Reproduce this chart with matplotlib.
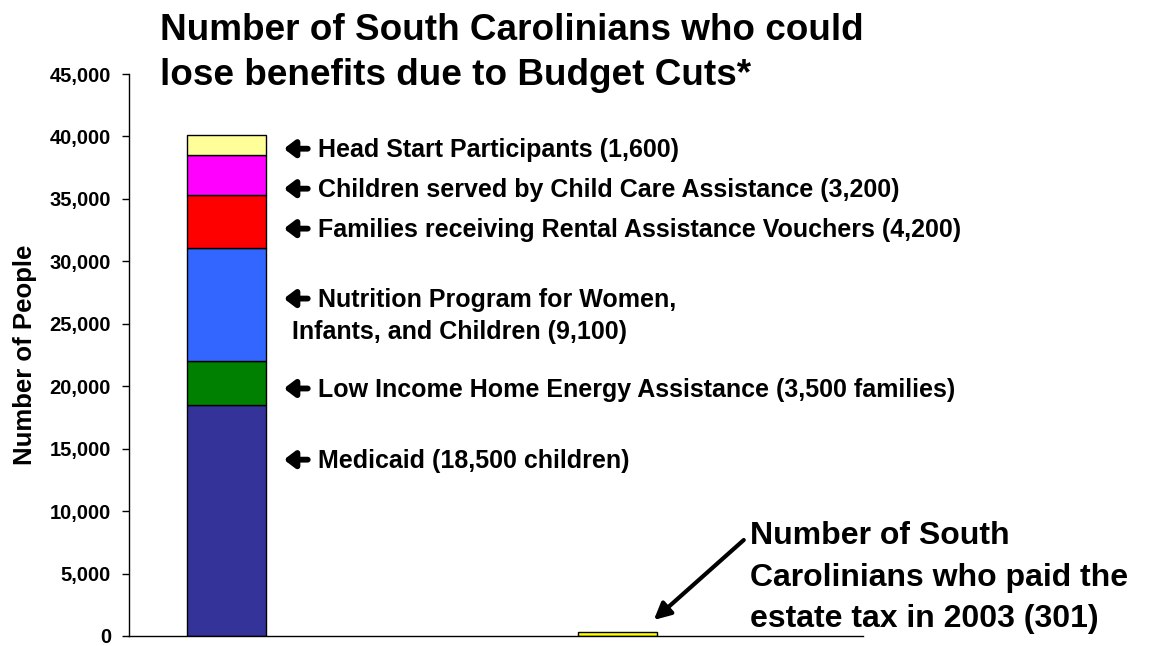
import matplotlib
matplotlib.use("Agg")
import matplotlib.pyplot as plt
from matplotlib.ticker import FuncFormatter

plt.rcParams['font.family'] = ['Liberation Sans', 'DejaVu Sans']
plt.rcParams['font.weight'] = 'bold'

# Data
programs = ["Medicaid", "Low Income Home Energy Assistance", "Nutrition Program for Women, Infants, and Children",
            "Families receiving Rental Assistance Vouchers", "Children served by Child Care Assistance",
            "Head Start Participants"]
program_values = [18500, 3500, 9100, 4200, 3200, 1600]
program_colors = ["#333399", "#008000", "#3366FF", "#FF0000", "#FF00FF", "#FFFF99"]
estate_tax_payers = 301
labels = ["Medicaid (18,500 children)",
          "Low Income Home Energy Assistance (3,500 families)",
          "Nutrition Program for Women,\n Infants, and Children (9,100)",
          "Families receiving Rental Assistance Vouchers (4,200)",
          "Children served by Child Care Assistance (3,200)",
          "Head Start Participants (1,600)"]
yticks = list(range(0, 45001, 5000))

fig = plt.figure(figsize=(11.51, 6.46), dpi=100)
ax = fig.add_axes([0.1121, 0.01548, 0.6377, 0.86992])

bw = 0.202
bottom = 0
for v, c in zip(program_values, program_colors):
    ax.bar(0, v, bottom=bottom, width=bw, color=c, edgecolor='black', linewidth=1)
    bottom += v
ax.bar(1, estate_tax_payers, width=bw, color="#FFFF00", edgecolor='black', linewidth=1)

ax.set_xlim(-0.249, 1.628)
ax.set_ylim(0, 45000)
ax.set_yticks(yticks)
ax.yaxis.set_major_formatter(FuncFormatter(lambda v, p: f"{int(v):,}"))
ax.tick_params(axis='y', labelsize=14.5, length=5, width=1, direction='out', pad=8)
ax.tick_params(axis='x', bottom=False, labelbottom=False)
for s in ['top', 'right']:
    ax.spines[s].set_visible(False)
ax.spines['left'].set_linewidth(1)
ax.spines['bottom'].set_linewidth(1)
for lab in ax.get_yticklabels():
    lab.set_fontweight('bold')

ax.set_ylabel("Number of People", fontsize=18.5, fontweight='bold', labelpad=9)

# Labels with arrows
label_y = [14000, 19700, 26900, 32500, 35700, 38900]
fs = 18
arrow_style = '-|>,head_length=0.42,head_width=0.32'


def left_arrow(yv):
    ax.annotate("", xy=(0.147, yv), xytext=(0.208, yv), annotation_clip=False,
                arrowprops=dict(arrowstyle=arrow_style, color='black', lw=4.2,
                                mutation_scale=15, shrinkA=0, shrinkB=0))


for lab, yv in zip(labels, label_y):
    left_arrow(yv + 120)
    if "\n" in lab:
        l1, l2 = lab.split("\n")
        ax.text(0.233, yv, l1, fontsize=fs, fontweight='bold', va='center', ha='left')
        ax.text(0.150, 24350, l2, fontsize=fs, fontweight='bold', va='center', ha='left')
    else:
        ax.text(0.233, yv, lab, fontsize=fs, fontweight='bold', va='center', ha='left')

ax.text(1.339, 4650, "Number of South\nCarolinians who paid the\nestate tax in 2003 (301)",
        fontsize=23, fontweight='bold', va='center', ha='left', linespacing=1.5, clip_on=False)
ax.annotate("", xy=(1.093, 1281), xytext=(1.323, 7687), annotation_clip=False,
            arrowprops=dict(arrowstyle='-|>', color='black', lw=3, mutation_scale=25,
                            shrinkA=0, shrinkB=0))

fig.text(0.139, 1 - 40 / 646, "Number of South Carolinians who could",
         fontsize=26.6, fontweight='bold', ha='left', va='baseline')
fig.text(0.139, 1 - 85 / 646, "lose benefits due to Budget Cuts*",
         fontsize=26.6, fontweight='bold', ha='left', va='baseline')

fig.savefig("out.png", dpi=100)
